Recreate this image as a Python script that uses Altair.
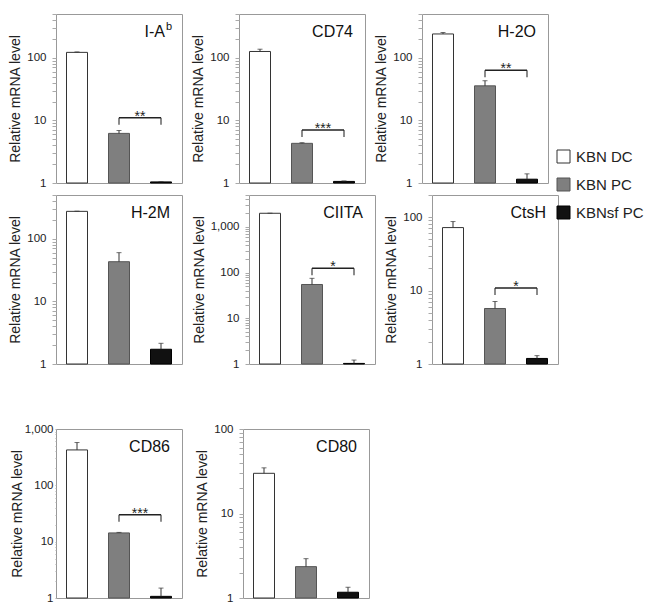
import altair as alt
import pandas as pd

GROUPS = ["KBN DC", "KBN PC", "KBNsf PC"]
GENES = ["I-A", "CD74", "H-2O", "H-2M", "CIITA", "CtsH", "CD86", "CD80"]
GENE_SUP = ["b", "", "", "", "", "", "", ""]
TOPS = [500, 500, 500, 500, 5000, 200, 1000, 100]

DC = [122, 126, 240, 274, 1990, 72, 425, 29.9]
PC = [6.2, 4.3, 35.6, 43, 55, 5.7, 14.3, 2.35]
SF = [1.04, 1.06, 1.15, 1.72, 1.03, 1.19, 1.07, 1.17]
DC_ERR = [124, 137, 253, 276, 2000, 87, 575, 34.7]
PC_ERR = [6.9, 4.4, 43, 60, 75, 7.1, 14.6, 2.92]
SF_ERR = [1.05, 1.08, 1.4, 2.14, 1.22, 1.3, 1.5, 1.34]

SIG_Y = [11, 7.0, 63, None, 124, 10.8, 30, None]
SIG_TXT = ["**", "***", "**", "", "*", "*", "***", ""]

MAJOR = [1, 10, 100, 1000]
FILLS = ["#ffffff", "#7f7f7f", "#111111"]
STROKES = ["#333333", "#555555", "#000000"]
FONT = "Liberation Sans"
W, H = 126, 169


def tick_values(top):
    return [m * d for d in MAJOR for m in range(1, 10) if m * d <= top]


def panel(i):
    df = pd.DataFrame({
        "group": GROUPS,
        "value": [DC[i], PC[i], SF[i]],
        "err": [DC_ERR[i], PC_ERR[i], SF_ERR[i]],
        "base": [1, 1, 1],
    })
    x = alt.X("group:N", scale=alt.Scale(domain=GROUPS, paddingInner=0.5, paddingOuter=0.25), axis=None)
    yscale = alt.Scale(type="log", domain=[1, TOPS[i]], nice=False)
    wide = i == 6
    y = alt.Y("value:Q", scale=yscale,
              axis=alt.Axis(values=tick_values(TOPS[i]),
                            labelExpr="indexof([1,10,100,1000], datum.value) >= 0 ? format(datum.value, ',') : ''",
                            title="Relative mRNA level",
                            tickSize=1 if wide else 4,
                            labelPadding=2 if wide else 6,
                            titlePadding=0 if wide else 4))
    base = alt.Chart(df)
    bars = base.mark_bar(strokeWidth=1).encode(
        x=x, y=y, y2="base:Q",
        fill=alt.Fill("group:N", scale=alt.Scale(domain=GROUPS, range=FILLS),
                      legend=alt.Legend(title=None, orient="none", legendX=500, legendY=135,
                                        symbolType="square", symbolSize=169,
                                        labelFontSize=15, labelFont=FONT, labelColor="#222",
                                        rowPadding=11, labelOffset=5, symbolStrokeWidth=1,
                                        symbolStrokeColor="#444")),
        stroke=alt.Stroke("group:N", scale=alt.Scale(domain=GROUPS, range=STROKES), legend=None),
    )
    errs = base.mark_rule(strokeWidth=1, color="#333").encode(x=x, y="value:Q", y2="err:Q")
    caps = base.mark_tick(orient="horizontal", size=5, thickness=1, color="#333").encode(x=x, y="err:Q")
    layers = [bars, errs, caps]

    lab = pd.DataFrame({"t": [GENES[i]]})
    if GENE_SUP[i]:
        layers.append(alt.Chart(lab).mark_text(align="right", baseline="alphabetic", fontSize=16,
                                               font=FONT, color="#111").encode(
            text="t:N", x=alt.value(W - 17), y=alt.value(23)))
        sup = pd.DataFrame({"t": [GENE_SUP[i]]})
        layers.append(alt.Chart(sup).mark_text(align="left", baseline="alphabetic", fontSize=11,
                                               font=FONT, color="#111").encode(
            text="t:N", x=alt.value(W - 16), y=alt.value(16)))
    else:
        layers.append(alt.Chart(lab).mark_text(align="right", baseline="alphabetic", fontSize=16,
                                               font=FONT, color="#111").encode(
            text="t:N", x=alt.value(W - 12), y=alt.value(23)))

    if SIG_Y[i] is not None:
        sig = pd.DataFrame({"group": GROUPS[1:], "y": [SIG_Y[i], SIG_Y[i]]})
        sig_x = alt.X("group:N", scale=alt.Scale(domain=GROUPS, paddingInner=0.5, paddingOuter=0.25), axis=None)
        layers.append(alt.Chart(sig).mark_line(color="#222", strokeWidth=1.5).encode(x=sig_x, y="y:Q"))
        layers.append(alt.Chart(sig).mark_tick(orient="vertical", size=7, thickness=1.5, yOffset=3.5,
                                               color="#222").encode(x=sig_x, y="y:Q"))
        st = pd.DataFrame({"group": [GROUPS[1]], "y": [SIG_Y[i]], "t": [SIG_TXT[i]]})
        layers.append(alt.Chart(st).mark_text(dx=21, dy=3, baseline="alphabetic", fontSize=14,
                                              font=FONT, color="#222").encode(
            x=sig_x, y="y:Q", text="t:N"))
    return alt.layer(*layers).properties(width=W, height=H)


panels = [panel(i) for i in range(8)]
row1 = alt.hconcat(panels[0], panels[1], panels[2], spacing=8)
row2 = alt.hconcat(panels[3], panels[4], panels[5], spacing=8)
top = alt.vconcat(row1, row2, spacing=5)
row3 = alt.hconcat(panels[6], panels[7], spacing=12)

chart = alt.vconcat(top, row3, spacing=52).properties(
    padding={"left": 0, "top": 5, "right": 5, "bottom": 0}
).configure_view(stroke="#999999", strokeWidth=1).configure_axis(
    labelFont=FONT, labelFontSize=11.5, labelColor="#222", titleFont=FONT, titleFontSize=14,
    titleFontWeight="normal", titleColor="#222", domain=False, grid=False, tickColor="#aaaaaa",
    tickSize=4
).resolve_scale(fill="shared", stroke="shared")

chart.save("out.html", embed_options={"renderer": "svg", "actions": False})
